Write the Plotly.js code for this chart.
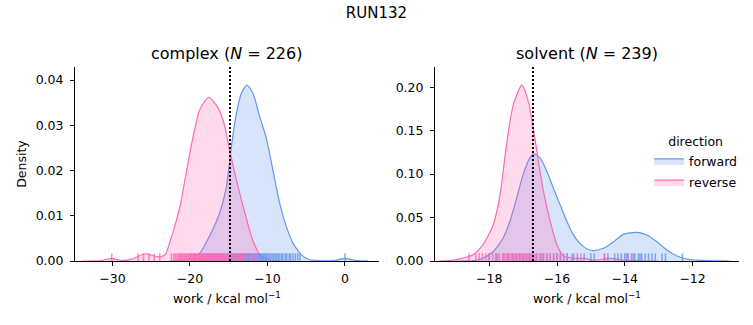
<!DOCTYPE html>
<html>
<head>
<meta charset="utf-8">
<script src="https://cdn.plot.ly/plotly-3.0.1.min.js"></script>
<style>html,body{margin:0;padding:0;background:#fff;}#chart{width:753px;height:325px;}</style>
</head>
<body>
<div id="chart"></div>
<script>
// ---- Data ----
// complex leg, KDE curves
const complexForwardX = [-22.5,-20.5,-19.5,-18.75,-17.5,-16.2,-15.3,-14.66,-14.0,-13.37,-12.65,-11.87,-11.0,-10.14,-9.3,-8.43,-7.56,-6.7,-5.6,-4.7,-3.5,-1.5,-0.5,0.0,0.6,1.5,3.0];
const complexForwardY = [0,0.0003,0.0009,0.0017,0.0054,0.0105,0.0164,0.0253,0.0327,0.0371,0.0389,0.0371,0.0319,0.0271,0.0201,0.0128,0.0076,0.0039,0.0013,0.0004,0.0001,0.0001,0.0004,0.0006,0.0004,0.0001,0];
const complexReverseX = [-34.0,-31.5,-30.1,-28.8,-27.5,-25.8,-24.0,-23.2,-22.6,-22.0,-21.3,-20.5,-19.6,-18.75,-17.6,-16.35,-15.5,-14.9,-14.0,-12.9,-11.9,-10.8,-9.5,-8.5];
const complexReverseY = [0,0.0001,0.0006,0.0001,0.0004,0.0016,0.0009,0.0014,0.0042,0.0075,0.012,0.0194,0.0275,0.0334,0.0362,0.0338,0.0297,0.0246,0.0179,0.0105,0.0046,0.001,0.0001,0];
// solvent leg, KDE curves
const solventForwardX = [-19.0,-18.47,-18.18,-17.88,-17.59,-17.39,-17.19,-17.0,-16.8,-16.68,-16.5,-16.3,-16.11,-15.91,-15.71,-15.52,-15.32,-15.1,-14.93,-14.63,-14.33,-14.04,-13.66,-13.35,-13.05,-12.76,-12.46,-12.17,-11.77,-11.2,-10.9];
const solventForwardY = [0,0.0005,0.0035,0.011,0.0265,0.0457,0.0726,0.0994,0.1187,0.1233,0.1187,0.1033,0.0841,0.0649,0.0457,0.0303,0.020,0.0135,0.0119,0.0146,0.0222,0.0307,0.033,0.030,0.0222,0.0127,0.0058,0.0023,0.0007,0.0001,0];
const solventReverseX = [-19.5,-19.16,-18.77,-18.47,-18.18,-17.88,-17.68,-17.49,-17.29,-17.04,-16.85,-16.7,-16.55,-16.4,-16.2,-16.0,-15.8,-15.5,-15.2,-14.93,-14.43,-14.05,-13.5,-13.0];
const solventReverseY = [0,0.0005,0.0035,0.0073,0.0188,0.042,0.0764,0.134,0.180,0.2024,0.184,0.153,0.115,0.080,0.0457,0.0188,0.0054,0.0032,0.003,0.001,0.003,0.001,0.0002,0];
// rug samples (work values)
const complexForwardRug = [-19.5,-18.2,-17.6,-17.3,-16.9,-16.6,-16.3,-16.0,-15.8,-15.5,-15.3,-15.0,-14.8,-14.6,-14.45,-14.3,-14.15,-14.0,-13.85,-13.7,-13.55,-13.4,-13.25,-13.1,-12.95,-12.9,-12.75,-12.6,-12.5,-12.4,-12.25,-12.1,-11.95,-11.8,-11.65,-11.5,-11.35,-11.2,-11.05,-10.9,-10.75,-10.6,-10.45,-10.3,-10.15,-10.0,-9.8,-9.6,-9.4,-9.2,-9.0,-8.8,-8.6,-8.4,-8.15,-8.0,-7.7,-7.5,-7.2,-7.0,-6.7,-6.4,-6.1,-5.8,0.0];
const complexReverseRug = [-30.1,-26.7,-26.0,-25.3,-24.6,-23.9,-22.4,-22.1,-21.9,-21.7,-21.5,-21.35,-21.2,-21.05,-20.9,-20.75,-20.6,-20.45,-20.3,-20.15,-20.0,-19.9,-19.8,-19.65,-19.5,-19.4,-19.3,-19.15,-19.0,-18.9,-18.8,-18.7,-18.6,-18.5,-18.4,-18.3,-18.2,-18.1,-18.0,-17.9,-17.8,-17.7,-17.6,-17.5,-17.4,-17.3,-17.2,-17.1,-17.0,-16.9,-16.8,-16.7,-16.6,-16.5,-16.4,-16.3,-16.2,-16.1,-16.0,-15.85,-15.7,-15.55,-15.4,-15.25,-15.1,-14.95,-14.8,-14.65,-14.5,-14.3,-14.1,-13.9,-13.7,-13.45,-13.2,-12.9,-12.6,-12.3,-12.0,-11.6,-11.3];
const solventForwardRug = [-18.0,-17.8,-17.6,-17.45,-17.3,-17.2,-17.1,-17.0,-16.9,-16.8,-16.7,-16.6,-16.5,-16.4,-16.3,-16.2,-16.1,-16.0,-15.9,-15.8,-15.7,-15.55,-15.4,-15.2,-15.0,-14.9,-14.6,-14.5,-14.3,-14.2,-14.1,-14.0,-13.95,-13.9,-13.8,-13.75,-13.7,-13.6,-13.55,-13.5,-13.4,-13.3,-13.2,-13.1,-12.9,-12.8,-12.3];
const solventReverseRug = [-18.6,-18.4,-18.3,-18.2,-18.1,-18.0,-17.9,-17.8,-17.75,-17.7,-17.6,-17.55,-17.5,-17.45,-17.4,-17.35,-17.3,-17.25,-17.2,-17.15,-17.1,-17.05,-17.0,-16.95,-16.9,-16.85,-16.8,-16.75,-16.7,-16.65,-16.6,-16.5,-16.45,-16.4,-16.3,-16.2,-16.1,-16.0,-15.9,-15.7,-15.5,-15.3,-14.6,-13.9];
// mean/estimate markers (dotted lines)
const complexMark = -14.84;
const solventMark = -16.71;
const titles = {sup: "RUN132", complex: "complex (<i>N</i> = 226)", solvent: "solvent (<i>N</i> = 239)"};

// ---- Styles ----
const BLUE = "#6495ED", PINK = "#FF69B4";
const BLUE_FILL = "rgba(100,149,237,0.25)", PINK_FILL = "rgba(255,105,180,0.25)";
const FONT = "DejaVu Sans, sans-serif";

function kde(x, y, color, fill, name, xa, ya, legend) {
  return {type: "scatter", mode: "lines", x: x, y: y, xaxis: xa, yaxis: ya,
    name: name, legendgroup: name, showlegend: legend,
    line: {color: color, width: 1.2, shape: "spline", smoothing: 0.6},
    fill: "tozeroy", fillcolor: fill, hoverinfo: "skip"};
}
function rug(vals, color, xa, ya) {
  return {type: "scatter", mode: "markers", x: vals, y: vals.map(() => 0), xaxis: xa, yaxis: ya,
    showlegend: false, cliponaxis: true, hoverinfo: "skip",
    marker: {symbol: "line-ns-open", size: 11, color: color, opacity: 0.8, line: {color: color, width: 1.5}}};
}

const data = [
  kde(complexForwardX, complexForwardY, BLUE, BLUE_FILL, "forward", "x", "y", true),
  kde(complexReverseX, complexReverseY, PINK, PINK_FILL, "reverse", "x", "y", true),
  kde(solventForwardX, solventForwardY, BLUE, BLUE_FILL, "forward", "x2", "y2", false),
  kde(solventReverseX, solventReverseY, PINK, PINK_FILL, "reverse", "x2", "y2", false),
  rug(complexForwardRug, BLUE, "x", "y"),
  rug(complexReverseRug, PINK, "x", "y"),
  rug(solventForwardRug, BLUE, "x2", "y2"),
  rug(solventReverseRug, PINK, "x2", "y2")
];

const tickFont = {family: FONT, size: 12.5, color: "#000"};
function xaxis(domain, range, dtick, anchor) {
  return {domain: domain, range: range, dtick: dtick, anchor: anchor, showgrid: false, zeroline: false,
    showline: true, linecolor: "#000", linewidth: 1, ticks: "outside", ticklen: 4, tickwidth: 1, tickcolor: "#000",
    tickfont: tickFont, ticklabelstandoff: 2,
    title: {text: "work / kcal mol<sup>−1</sup>", font: {family: FONT, size: 12.5, color: "#000"}, standoff: 9}};
}
function yaxis(domain, range, dtick, anchor, title) {
  const a = {domain: domain, range: range, dtick: dtick, anchor: anchor, showgrid: false, zeroline: false,
    showline: true, linecolor: "#000", linewidth: 1, ticks: "outside", ticklen: 4, tickwidth: 1, tickcolor: "#000",
    tickfont: tickFont, tickformat: ".2f", ticklabelstandoff: 4};
  if (title) a.title = {text: title, font: {family: FONT, size: 12.5, color: "#000"}, standoff: 6};
  return a;
}

const yDom = [0.1969, 0.7938];
const layout = {
  width: 753, height: 325, margin: {l: 0, r: 0, t: 0, b: 0},
  paper_bgcolor: "#fff", plot_bgcolor: "#fff",
  font: {family: FONT, color: "#000"},
  title: {text: titles.sup, font: {family: FONT, size: 15, color: "#000"}, x: 0.5, xanchor: "center", y: 0.962, yanchor: "middle", yref: "paper"},
  xaxis: xaxis([0.0996, 0.5033], [-34.84, 4.39], 10, "y"),
  yaxis: yaxis(yDom, [0, 0.04288], 0.01, "x", "Density"),
  xaxis2: xaxis([0.5777, 0.9814], [-19.6, -10.63], 2, "y2"),
  yaxis2: yaxis(yDom, [0, 0.2232], 0.05, "x2", null),
  showlegend: true,
  legend: {x: 0.862, xanchor: "left", y: 0.6, yanchor: "top", bgcolor: "rgba(0,0,0,0)",
    font: {family: FONT, size: 12.5, color: "#000"},
    title: {text: "direction", side: "top center", font: {family: FONT, size: 12.5, color: "#000"}},
    itemwidth: 30, tracegroupgap: 2},
  annotations: [
    {text: titles.complex, xref: "paper", yref: "paper", x: (0.0996 + 0.5033) / 2, y: 1 - 54 / 325, xanchor: "center", yanchor: "middle", showarrow: false, font: {family: FONT, size: 16, color: "#000"}},
    {text: titles.solvent, xref: "paper", yref: "paper", x: (0.5777 + 0.9814) / 2, y: 1 - 54 / 325, xanchor: "center", yanchor: "middle", showarrow: false, font: {family: FONT, size: 16, color: "#000"}}
  ],
  shapes: [
    {type: "line", xref: "x", yref: "y domain", x0: complexMark, x1: complexMark, y0: 0, y1: 1, line: {color: "#000", width: 2, dash: "2px,2px"}},
    {type: "line", xref: "x2", yref: "y2 domain", x0: solventMark, x1: solventMark, y0: 0, y1: 1, line: {color: "#000", width: 2, dash: "2px,2px"}}
  ]
};

Plotly.newPlot("chart", data, layout, {displayModeBar: false, staticPlot: true});
</script>
</body>
</html>
